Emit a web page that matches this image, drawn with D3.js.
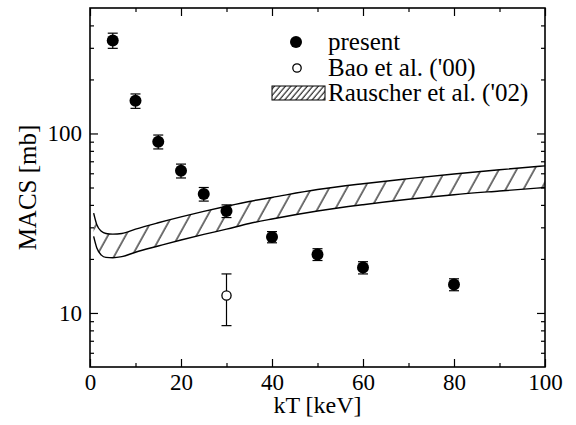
<!DOCTYPE html>
<html>
<head>
<meta charset="utf-8">
<script src="https://cdn.jsdelivr.net/npm/d3@7"></script>
<style>
  body { margin: 0; background: #fff; }
  svg { display: block; }
</style>
</head>
<body>
<div id="chart"></div>
<script>
// Data

const ktPresent = [5, 10, 15, 20, 25, 30, 40, 50, 60, 80];
const macsPresent = [330, 152, 90, 62, 46, 37, 26.5, 21.2, 17.9, 14.4];
const errPresent = [32, 14, 8, 5.5, 4, 3, 1.9, 1.6, 1.4, 1.1];

const ktBao = [30];
const macsBao = [12.5];
const errBao = [4];

const ktBand = [0.8, 1.5, 2.5, 3.5, 5, 7, 10, 15, 20, 25, 30, 35, 40, 50, 60, 70, 80, 90, 100];
const bandUpper = [36, 31, 28.5, 27.7, 27.5, 27.7, 29.3, 31.8, 34.3, 36.8, 39.3, 41.8, 44, 48.7, 52.5, 56, 59.5, 62.8, 66];
const bandLower = [26.7, 23, 21, 20.4, 20.3, 20.6, 21.8, 23.6, 25.5, 27.4, 29.3, 31.5, 33.4, 37, 40.1, 43, 45.6, 47.8, 50];

const xTicks = [0, 20, 40, 60, 80, 100];
const xMinorTicks = [10, 30, 50, 70, 90];
const yTicks = [10, 100];
const yMinorTicks = [6, 7, 8, 9, 20, 30, 40, 50, 60, 70, 80, 90, 200, 300, 400];

const legendLabels = ['present', "Bao et al. ('00)", "Rauscher et al. ('02)"];

// Chart

const font = "'Liberation Serif', 'Times New Roman', serif";
const width = 576;
const height = 425;
const margin = { top: 8, right: 31, bottom: 58, left: 90 };
const w = width - margin.left - margin.right;
const h = height - margin.top - margin.bottom;

const svg = d3.select('#chart').append('svg')
  .attr('width', width)
  .attr('height', height);

const defs = svg.append('defs');

// hatch for the band
const hatch = defs.append('pattern')
  .attr('id', 'hatch')
  .attr('patternUnits', 'userSpaceOnUse')
  .attr('width', 15.5)
  .attr('height', 20)
  .attr('patternTransform', 'rotate(29)');
hatch.append('line')
  .attr('x1', 2).attr('y1', 0).attr('x2', 2).attr('y2', 20)
  .attr('stroke', '#000').attr('stroke-width', 1.1);

// dense hatch for legend box
const hatchSmall = defs.append('pattern')
  .attr('id', 'hatch-small')
  .attr('patternUnits', 'userSpaceOnUse')
  .attr('width', 4.2)
  .attr('height', 10)
  .attr('patternTransform', 'rotate(40)');
hatchSmall.append('line')
  .attr('x1', 1).attr('y1', 0).attr('x2', 1).attr('y2', 10)
  .attr('stroke', '#000').attr('stroke-width', 1);

const g = svg.append('g').attr('transform', `translate(${margin.left},${margin.top})`);

defs.append('clipPath').attr('id', 'plot-clip')
  .append('rect').attr('width', w).attr('height', h);

// Scales

const xScale = d3.scaleLinear().domain([0, 100]).range([0, w]);
const yScale = d3.scaleLog().domain([5, 500]).range([h, 0]);

// Band

const band = ktBand.map((k, i) => ({ k, lo: bandLower[i], hi: bandUpper[i] }));

const area = d3.area()
  .curve(d3.curveMonotoneX)
  .x((d) => xScale(d.k))
  .y0((d) => yScale(d.lo))
  .y1((d) => yScale(d.hi));

const plot = g.append('g').attr('clip-path', 'url(#plot-clip)');

plot.append('path')
  .datum(band)
  .attr('d', area)
  .attr('fill', 'url(#hatch)');

const upperLine = d3.line().curve(d3.curveMonotoneX)
  .x((d) => xScale(d.k)).y((d) => yScale(d.hi));
const lowerLine = d3.line().curve(d3.curveMonotoneX)
  .x((d) => xScale(d.k)).y((d) => yScale(d.lo));

plot.append('path').datum(band).attr('d', upperLine)
  .attr('fill', 'none').attr('stroke', '#000').attr('stroke-width', 1.4);
plot.append('path').datum(band).attr('d', lowerLine)
  .attr('fill', 'none').attr('stroke', '#000').attr('stroke-width', 1.4);

// Error bars + points

function drawPoints(kt, vals, errs, filled, r) {
  const pts = kt.map((k, i) => ({ k, v: vals[i], e: errs[i] }));
  const grp = g.append('g');
  const cap = 5;

  grp.selectAll('line.bar').data(pts).enter().append('line')
    .attr('x1', (d) => xScale(d.k)).attr('x2', (d) => xScale(d.k))
    .attr('y1', (d) => yScale(d.v + d.e)).attr('y2', (d) => yScale(d.v - d.e))
    .attr('stroke', '#000').attr('stroke-width', 1.2);
  grp.selectAll('line.top').data(pts).enter().append('line')
    .attr('x1', (d) => xScale(d.k) - cap).attr('x2', (d) => xScale(d.k) + cap)
    .attr('y1', (d) => yScale(d.v + d.e)).attr('y2', (d) => yScale(d.v + d.e))
    .attr('stroke', '#000').attr('stroke-width', 1.2);
  grp.selectAll('line.bot').data(pts).enter().append('line')
    .attr('x1', (d) => xScale(d.k) - cap).attr('x2', (d) => xScale(d.k) + cap)
    .attr('y1', (d) => yScale(d.v - d.e)).attr('y2', (d) => yScale(d.v - d.e))
    .attr('stroke', '#000').attr('stroke-width', 1.2);
  grp.selectAll('circle').data(pts).enter().append('circle')
    .attr('cx', (d) => xScale(d.k))
    .attr('cy', (d) => yScale(d.v))
    .attr('r', r)
    .attr('fill', filled ? '#000' : '#fff')
    .attr('stroke', '#000')
    .attr('stroke-width', filled ? 0 : 1.3);
}

drawPoints(ktPresent, macsPresent, errPresent, true, 6);
drawPoints(ktBao, macsBao, errBao, false, 4.6);

// Axes (ticks inside, mirrored)

const tickStyle = (sel) => {
  sel.select('.domain').remove();
  sel.selectAll('line').attr('stroke', '#000').attr('stroke-width', 1.2);
  sel.selectAll('text')
    .style('font-family', font)
    .style('font-size', '23px')
    .attr('fill', '#000');
};

g.append('g').attr('transform', `translate(0,${h})`)
  .call(d3.axisBottom(xScale).tickValues(xTicks).tickSizeInner(-8).tickSizeOuter(0).tickPadding(7))
  .call(tickStyle);
g.append('g').attr('transform', `translate(0,${h})`)
  .call(d3.axisBottom(xScale).tickValues(xMinorTicks).tickSizeInner(-4).tickSizeOuter(0).tickFormat(''))
  .call(tickStyle);
g.append('g')
  .call(d3.axisTop(xScale).tickValues(xTicks).tickSizeInner(-8).tickSizeOuter(0).tickFormat(''))
  .call(tickStyle);
g.append('g')
  .call(d3.axisTop(xScale).tickValues(xMinorTicks).tickSizeInner(-4).tickSizeOuter(0).tickFormat(''))
  .call(tickStyle);

g.append('g')
  .call(d3.axisLeft(yScale).tickValues(yTicks).tickSizeInner(-8).tickSizeOuter(0).tickPadding(8).tickFormat(d3.format('d')))
  .call(tickStyle);
g.append('g')
  .call(d3.axisLeft(yScale).tickValues(yMinorTicks).tickSizeInner(-4).tickSizeOuter(0).tickFormat(''))
  .call(tickStyle);
g.append('g').attr('transform', `translate(${w},0)`)
  .call(d3.axisRight(yScale).tickValues(yTicks).tickSizeInner(-8).tickSizeOuter(0).tickFormat(''))
  .call(tickStyle);
g.append('g').attr('transform', `translate(${w},0)`)
  .call(d3.axisRight(yScale).tickValues(yMinorTicks).tickSizeInner(-4).tickSizeOuter(0).tickFormat(''))
  .call(tickStyle);

// Frame
g.append('rect')
  .attr('width', w).attr('height', h)
  .attr('fill', 'none').attr('stroke', '#000').attr('stroke-width', 1.6);

// Axis labels

svg.append('text')
  .attr('x', margin.left + w / 2)
  .attr('y', 413)
  .attr('text-anchor', 'middle')
  .style('font-family', font)
  .style('font-size', '24px')
  .text('kT [keV]');

svg.append('text')
  .attr('transform', `translate(36,${margin.top + h / 2}) rotate(-90)`)
  .attr('text-anchor', 'middle')
  .style('font-family', font)
  .style('font-size', '25px')
  .text('MACS [mb]');

// Legend

const legend = svg.append('g');
const legendX = 298;
const legendY = [42, 68, 93];

legend.append('circle').attr('cx', legendX - 2).attr('cy', legendY[0]).attr('r', 6).attr('fill', '#000');
legend.append('circle').attr('cx', legendX - 1).attr('cy', legendY[1]).attr('r', 4.2)
  .attr('fill', '#fff').attr('stroke', '#000').attr('stroke-width', 1.3);
legend.append('rect').attr('x', legendX - 26).attr('y', legendY[2] - 7).attr('width', 53).attr('height', 14)
  .attr('fill', 'url(#hatch-small)').attr('stroke', '#000').attr('stroke-width', 1);

legend.selectAll('text').data(legendLabels).enter().append('text')
  .attr('x', 328)
  .attr('y', (d, i) => legendY[i] + 8)
  .style('font-family', font)
  .style('font-size', '25px')
  .text((d) => d);
</script>
</body>
</html>
